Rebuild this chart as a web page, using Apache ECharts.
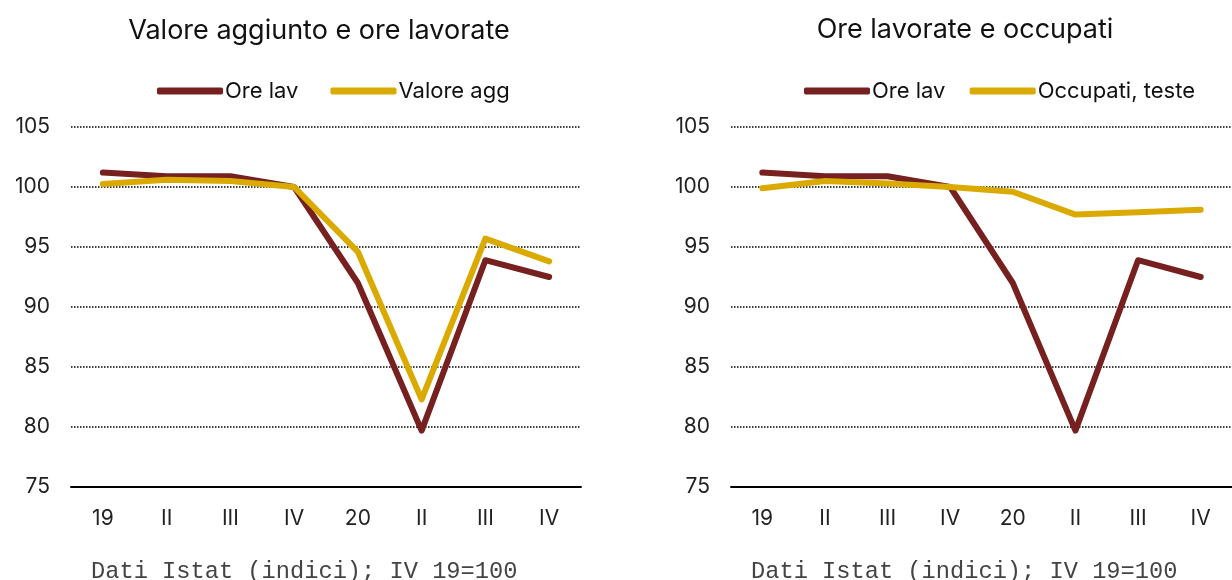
<!DOCTYPE html>
<html>
<head>
<meta charset="utf-8">
<script src="https://cdn.jsdelivr.net/npm/echarts@6/dist/echarts.min.js"></script>
<style>
  html, body { margin: 0; padding: 0; background: #fff; }
  #chart { width: 1232px; height: 580px; }
</style>
</head>
<body>
<div id="chart"></div>
<script>
  // categorie (trimestri)
  const quarters = ['19', 'II', 'III', 'IV', '20', 'II', 'III', 'IV'];
  // indici, IV 19 = 100
  const oreLav = [101.2, 100.9, 100.9, 100.0, 92.0, 79.7, 93.9, 92.5];
  const valoreAgg = [100.25, 100.6, 100.5, 100.0, 94.6, 82.3, 95.7, 93.8];
  const occupati = [99.9, 100.5, 100.3, 100.0, 99.6, 97.7, 97.9, 98.1];
  const yTicks = [75, 80, 85, 90, 95, 100, 105];

  const RED = '#76201f';
  const GOLD = '#dbaa00';
  const FONT = 'Inter';

  const chart = echarts.init(document.getElementById('chart'));

  function xAxis(idx) {
    return {
      type: 'category',
      gridIndex: idx,
      data: quarters,
      boundaryGap: true,
      axisLine: { lineStyle: { color: '#000', width: 2 } },
      axisTick: { show: false },
      axisLabel: { color: '#222', fontSize: 21, fontFamily: FONT, margin: 21 }
    };
  }
  function yAxis(idx) {
    return {
      type: 'value',
      gridIndex: idx,
      min: yTicks[0],
      max: yTicks[yTicks.length - 1],
      interval: 5,
      axisLine: { show: false },
      axisTick: { show: false },
      axisLabel: { color: '#222', fontSize: 21, fontFamily: FONT, margin: 21 },
      splitLine: { lineStyle: { color: '#000', type: [1.5, 1.5], width: 1.5 } }
    };
  }
  function line(name, data, color, idx) {
    return {
      name: name,
      type: 'line',
      xAxisIndex: idx,
      yAxisIndex: idx,
      data: data,
      symbol: 'none',
      color: color,
      lineStyle: { width: 6, color: color, cap: 'round', join: 'round' },
      z: color === GOLD ? 3 : 2
    };
  }

  const option = {
    animation: false,
    title: [
      { text: 'Valore aggiunto e ore lavorate', left: 314, top: 12, textAlign: 'center',
        textStyle: { fontSize: 27, fontWeight: 'normal', color: '#111', fontFamily: FONT } },
      { text: 'Ore lavorate e occupati', left: 960, top: 11, textAlign: 'center',
        textStyle: { fontSize: 27, fontWeight: 'normal', color: '#111', fontFamily: FONT } },
      { text: 'Dati Istat (indici); IV 19=100', left: 86, top: 555,
        textStyle: { fontSize: 23.7, fontWeight: 'normal', color: '#444', fontFamily: 'Liberation Mono' } },
      { text: 'Dati Istat (indici); IV 19=100', left: 746, top: 555,
        textStyle: { fontSize: 23.7, fontWeight: 'normal', color: '#444', fontFamily: 'Liberation Mono' } }
    ],
    legend: [
      { data: ['Ore lav', 'Valore agg'], left: 152, top: 75, icon: 'roundRect',
        itemWidth: 66, itemHeight: 7, itemGap: 32,
        textStyle: { fontSize: 22, color: '#111', fontFamily: FONT, padding: [0, 0, 0, -3] } },
      { data: ['Ore lav ', 'Occupati, teste'], left: 799, top: 75, icon: 'roundRect',
        itemWidth: 66, itemHeight: 7, itemGap: 18,
        textStyle: { fontSize: 22, color: '#111', fontFamily: FONT, padding: [0, 0, 0, -3] } }
    ],
    grid: [
      { left: 71, top: 127, width: 510, height: 360 },
      { left: 731, top: 127, width: 508, height: 360 }
    ],
    xAxis: [xAxis(0), xAxis(1)],
    yAxis: [yAxis(0), yAxis(1)],
    series: [
      line('Ore lav', oreLav, RED, 0),
      line('Valore agg', valoreAgg, GOLD, 0),
      line('Ore lav ', oreLav, RED, 1),
      line('Occupati, teste', occupati, GOLD, 1)
    ]
  };

  chart.setOption(option);
</script>
</body>
</html>
